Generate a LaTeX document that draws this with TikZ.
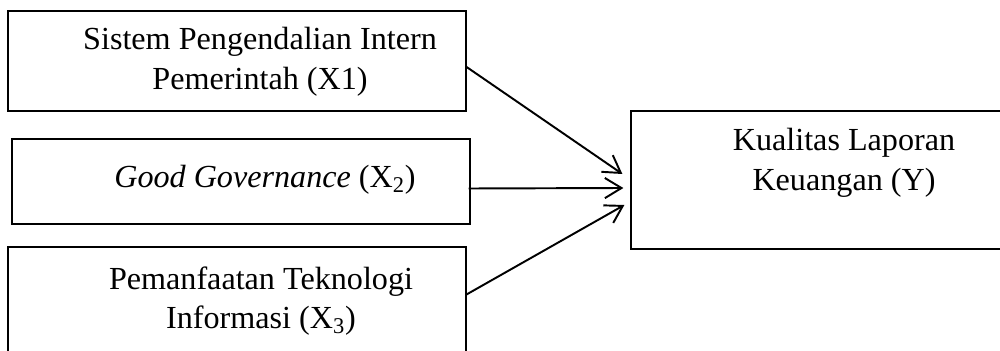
\documentclass[tikz,border=0pt]{standalone}
\usepackage{fontspec}
\setmainfont{Liberation Serif}
\usetikzlibrary{positioning, arrows.meta, calc}

\begin{document}
\begin{tikzpicture}[
    x=0.02cm, y=-0.02cm,
    varbox/.style={draw, line width=0.7pt, inner sep=0pt},
    lbl/.style={inner sep=0pt, align=center, font=\fontsize{18.3}{22.5}\selectfont},
    link/.style={line width=1.1pt, -{Straight Barb[length=9.5pt, width=11.5pt]}}
]
\useasboundingbox (0,0) rectangle (1000,351);

% Independent variables
\node[varbox, minimum width=458*0.02cm, minimum height=100*0.02cm] (x1) at (237,61) {};
\node[varbox, minimum width=458*0.02cm, minimum height=85*0.02cm] (x2) at (241,181.5) {};
\node[varbox, minimum width=458*0.02cm, minimum height=109*0.02cm] (x3) at (237,301.5) {};

% Dependent variable
\node[varbox, minimum width=374*0.02cm, minimum height=138*0.02cm] (y) at (818,180) {};

% Labels
\node[lbl] (t1) at (260,62) {Sistem Pengendalian Intern\\Pemerintah (X1)};
\node[lbl, anchor=base] (t2) at (265,188) {\textit{Good Governance} (X\textsubscript{2})};
\node[lbl] (t3) at (261,301) {Pemanfaatan Teknologi\\Informasi (X\textsubscript{3})};
\node[lbl] (ty) at (844,163) {Kualitas Laporan\\Keuangan (Y)};

% Arrows
\draw[link] ($(x1.east)+(0,6)$) -- ($(y.west)+(-8,-6)$);
\draw[link] ($(x2.east)+(-2,7)$) -- ($(y.west)+(-7,8)$);
\draw[link] ($(x3.east)+(-1,-6.5)$) -- ($(y.west)+(-6,25)$);

\end{tikzpicture}
\end{document}
